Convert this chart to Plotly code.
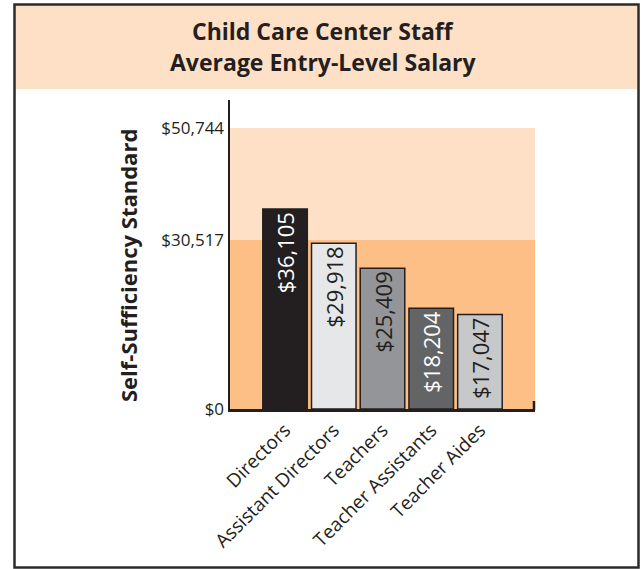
import plotly.graph_objects as go

# ---- data ----
categories = ["Directors", "Assistant Directors", "Teachers", "Teacher Assistants", "Teacher Aides"]
salaries = [36105, 29918, 25409, 18204, 17047]
bar_labels = ["$36,105", "$29,918", "$25,409", "$18,204", "$17,047"]
band_levels = [0, 30517, 50744]
tick_labels = ["$0", "$30,517", "$50,744"]

# ---- styles ----
bar_colors = ["#231F20", "#E6E7E8", "#939598", "#636466", "#C7C8CA"]
text_colors = ["#FFFFFF", "#231F20", "#231F20", "#FFFFFF", "#231F20"]
DARK = "#231F20"
LIGHT_BAND = "#FDE0C5"
DARK_BAND = "#FDBF86"
FONT = "Open Sans"

W, H = 641, 569
L, R, T, B = 230, 535, 100, 409  # plot area in pixels


def px(x):
    return (x - L) / (R - L)


def py(y):
    return (B - y) / (B - T)


fig = go.Figure()
fig.add_trace(go.Bar(
    x=list(range(len(categories))),
    y=salaries,
    width=0.914,
    marker=dict(color=bar_colors, line=dict(color=DARK, width=1.5)),
    text=bar_labels,
    textposition="inside",
    insidetextanchor="end",
    textangle=-90,
    textfont=dict(family=FONT, size=22, color=text_colors),
    hoverinfo="skip",
))

shapes = [
    # header band
    dict(type="rect", xref="paper", yref="paper", x0=px(15), x1=px(637), y0=py(89), y1=py(5),
         fillcolor=LIGHT_BAND, line=dict(width=0), layer="below"),
    # outer border
    dict(type="rect", xref="paper", yref="paper", x0=px(14.5), x1=px(638.5), y0=py(567.5), y1=py(4.5),
         fillcolor="rgba(0,0,0,0)", line=dict(color="#2B2B2B", width=2.5)),
    # bands
    dict(type="rect", xref="x domain", yref="y", x0=0, x1=1, y0=band_levels[0], y1=band_levels[1],
         fillcolor=DARK_BAND, line=dict(width=0), layer="below"),
    dict(type="rect", xref="x domain", yref="y", x0=0, x1=1, y0=band_levels[1], y1=band_levels[2],
         fillcolor=LIGHT_BAND, line=dict(width=0), layer="below"),
    # small end tick on x axis
    dict(type="line", xref="paper", yref="paper", x0=px(534), x1=px(534), y0=py(410), y1=py(401),
         line=dict(color=DARK, width=2.5)),
]

annotations = [
    dict(text="<b>Child Care Center Staff</b>", xref="paper", yref="paper", x=px(323), y=py(31),
         xanchor="center", yanchor="middle", showarrow=False,
         font=dict(family=FONT, size=23, color=DARK)),
    dict(text="<b>Average Entry-Level Salary</b>", xref="paper", yref="paper", x=px(323), y=py(62),
         xanchor="center", yanchor="middle", showarrow=False,
         font=dict(family=FONT, size=23, color=DARK)),
    dict(text="<b>Self-Sufficiency Standard</b>", xref="paper", yref="paper", x=px(128), y=py(266),
         xanchor="center", yanchor="middle", showarrow=False, textangle=-90,
         font=dict(family=FONT, size=22, color=DARK)),
]

fig.update_layout(
    width=W, height=H,
    margin=dict(l=L, r=W - R, t=T, b=H - B, pad=0),
    paper_bgcolor="white",
    plot_bgcolor="rgba(0,0,0,0)",
    showlegend=False,
    hovermode=False,
    shapes=shapes,
    annotations=annotations,
    bargap=0,
    xaxis=dict(
        range=[-1.13, 5.13],
        tickvals=list(range(len(categories))),
        ticktext=categories,
        tickangle=-45,
        tickfont=dict(family=FONT, size=19, color=DARK),
        showline=True, linecolor=DARK, linewidth=2.5,
        showgrid=False, zeroline=False, ticks="",
    ),
    yaxis=dict(
        range=[0, 55800],
        tickvals=band_levels,
        ticktext=tick_labels,
        tickfont=dict(family=FONT, size=17, color=DARK),
        showline=True, linecolor=DARK, linewidth=2.5,
        showgrid=False, zeroline=False, ticks="",
    ),
)

fig.write_html(
    "out.html",
    config={"displayModeBar": False, "staticPlot": True},
    post_script="document.body.style.margin='0';document.body.style.overflow='hidden';",
)
